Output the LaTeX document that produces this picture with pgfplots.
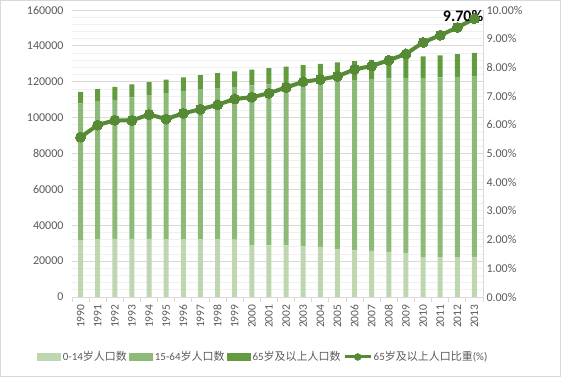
\documentclass[border=0pt]{standalone}
\usepackage{fontspec}
\setmainfont{Carlito}
\newfontfamily\cjk{Noto Sans CJK SC}
\usepackage{pgfplots}
\pgfplotsset{compat=1.18}
\definecolor{c1}{HTML}{BFD7B0}
\definecolor{c2}{HTML}{8EBA79}
\definecolor{c3}{HTML}{629C3E}
\definecolor{cl}{HTML}{568A35}
\definecolor{tx}{HTML}{595959}
\definecolor{gmaj}{HTML}{D9D9D9}
\definecolor{gmin}{HTML}{F0F0F0}
\begin{document}
\begin{tikzpicture}[x=1pt,y=1pt]
\draw[draw=gmaj, line width=1pt] (0.5,0.5) rectangle (560.5,376.5);
\begin{axis}[
  at={(72pt,80pt)}, anchor=south west,
  scale only axis, width=411pt, height=287pt,
  xmin=-0.5, xmax=23.5, ymin=0, ymax=160000,
  ybar stacked, bar width=5pt,
  xtick={-0.5,0.5,...,23.5},
  xticklabels={},
  tick align=outside,
  major x tick style={draw=gmaj, line width=0.8pt},
  major tick length=5pt,
  extra x ticks={0,1,...,23},
  extra x tick labels={1990,1991,1992,1993,1994,1995,1996,1997,1998,1999,2000,2001,2002,2003,2004,2005,2006,2007,2008,2009,2010,2011,2012,2013},
  extra x tick style={major tick length=0pt, major x tick style={draw=none},
    xticklabel shift=4pt,
    xticklabel style={rotate=90, anchor=east, font=\fontsize{11.5}{13}\selectfont, text=tx}},
  ytick={0,20000,40000,60000,80000,100000,120000,140000,160000},
  yticklabels={0,20000,40000,60000,80000,100000,120000,140000,160000},
  scaled y ticks=false,
  minor y tick num=4,
  ymajorgrids, yminorgrids,
  major grid style={draw=gmaj, line width=0.8pt},
  minor grid style={draw=gmin, line width=0.8pt},
  major y tick style={draw=none},
  minor y tick style={draw=none},
  yticklabel style={font=\fontsize{12}{14}\selectfont, text=tx},
  separate axis lines,
  axis x line*=bottom,
  axis y line*=left,
  x axis line style={draw=gmaj, line width=0.8pt, -},
  y axis line style={draw=none, -},
  legend columns=4,
  legend style={at={(0.465,-0.209)}, anchor=center, draw=none, fill=none,
    font=\fontsize{11}{13}\selectfont, text=tx, inner sep=0pt,
    nodes={inner sep=1.5pt},
    /tikz/every odd column/.append style={column sep=0pt},
    /tikz/every even column/.append style={column sep=1pt}},
]
\addplot[fill=c1, draw=none, legend image code/.code={\fill[c1] (0pt,-4pt) rectangle (24pt,4pt);}] coordinates {
(0,31659)(1,32095)(2,32339)(3,32177)(4,32360)(5,32218)(6,32311)(7,32093)(8,32064)(9,31950)
(10,29012)(11,28716)(12,28774)(13,28559)(14,27947)(15,26504)(16,25961)(17,25660)(18,25166)(19,24659)
(20,22259)(21,22164)(22,22287)(23,22329)};
\addplot[fill=c2, draw=none, legend image code/.code={\fill[c2] (0pt,-4pt) rectangle (24pt,4pt);}] coordinates {
(0,76306)(1,76791)(2,77614)(3,79051)(4,79868)(5,81393)(6,82245)(7,83448)(8,84338)(9,85157)
(10,88910)(11,89849)(12,90302)(13,90976)(14,92184)(15,94197)(16,95068)(17,95833)(18,96680)(19,97484)
(20,99938)(21,100283)(22,100403)(23,100582)};
\addplot[fill=c3, draw=none, legend image code/.code={\fill[c3] (0pt,-4pt) rectangle (24pt,4pt);}] coordinates {
(0,6368)(1,6938)(2,7218)(3,7289)(4,7622)(5,7510)(6,7833)(7,8085)(8,8359)(9,8679)
(10,8821)(11,9062)(12,9377)(13,9692)(14,9857)(15,10055)(16,10419)(17,10636)(18,10956)(19,11307)
(20,11894)(21,12288)(22,12714)(23,13161)};
\addlegendentry{0-14{\cjk 岁人口数}}
\addlegendentry{15-64{\cjk 岁人口数}}
\addlegendentry{65{\cjk 岁及以上人口数}}
\addlegendimage{legend image code/.code={\draw[cl, line width=3pt] (0pt,0pt) -- (26pt,0pt); \fill[cl] (13pt,0pt) circle (3.5pt);}}
\addlegendentry{65{\cjk 岁及以上人口比重}(\%)}
\end{axis}
\begin{axis}[
  at={(72pt,80pt)}, anchor=south west,
  scale only axis, width=411pt, height=287pt,
  xmin=-0.5, xmax=23.5, ymin=0, ymax=10,
  axis x line=none,
  axis y line*=right,
  y axis line style={draw=gmaj, line width=0.8pt, -},
  major y tick style={draw=none},
  ytick={0,1,2,3,4,5,6,7,8,9,10},
  yticklabels={0.00\%,1.00\%,2.00\%,3.00\%,4.00\%,5.00\%,6.00\%,7.00\%,8.00\%,9.00\%,10.00\%},
  yticklabel style={font=\fontsize{12}{14}\selectfont, text=tx},
  clip=false,
]
\addplot[cl, line width=4pt, mark=*, mark size=5pt, mark options={fill=cl, draw=cl, line width=0pt}] coordinates {
(0,5.57)(1,5.99)(2,6.16)(3,6.15)(4,6.36)(5,6.20)(6,6.40)(7,6.54)(8,6.70)(9,6.90)
(10,6.96)(11,7.10)(12,7.30)(13,7.50)(14,7.58)(15,7.69)(16,7.93)(17,8.05)(18,8.25)(19,8.47)
(20,8.87)(21,9.12)(22,9.39)(23,9.70)};
\node[anchor=south east, font=\fontsize{16}{18}\selectfont\bfseries, text=black, inner sep=0pt, xshift=9pt, yshift=-3pt] at (axis cs:23,9.70) {9.70\%};
\end{axis}
\pgfresetboundingbox
\useasboundingbox (0,0) rectangle (561,377);
\end{tikzpicture}
\end{document}
